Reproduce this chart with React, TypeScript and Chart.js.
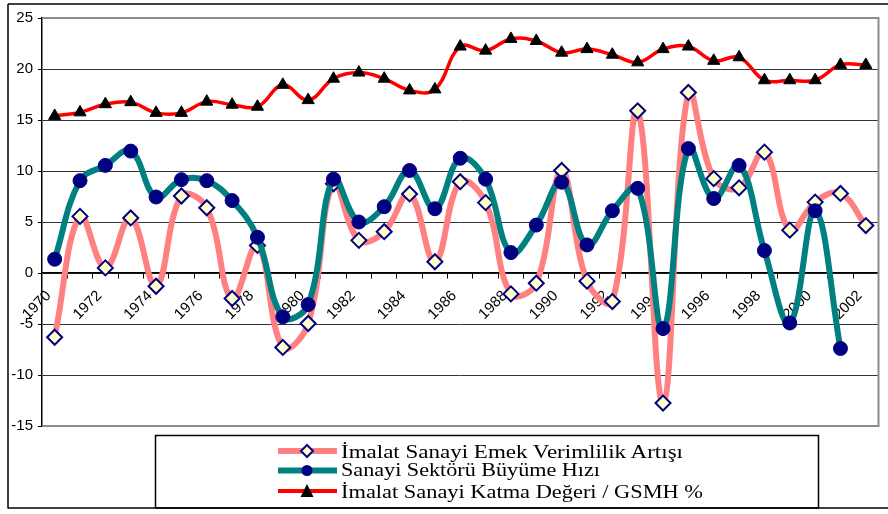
import React, { useEffect, useRef } from 'react';
import { Chart, registerables } from 'chart.js';

Chart.register(...registerables);

const years = [
  '1970', '1971', '1972', '1973', '1974', '1975', '1976', '1977', '1978', '1979',
  '1980', '1981', '1982', '1983', '1984', '1985', '1986', '1987', '1988', '1989',
  '1990', '1991', '1992', '1993', '1994', '1995', '1996', '1997', '1998', '1999',
  '2000', '2001', '2002',
];

const emekVerimlilikArtisi = [
  -6.3, 5.55, 0.5, 5.4, -1.3, 7.55, 6.4, -2.5, 2.7, -7.3,
  -4.95, 8.75, 3.2, 4.05, 7.75, 1.1, 8.95, 6.9, -2.05, -1.0,
  10.05, -0.8, -2.8, 15.9, -12.75, 17.7, 9.25, 8.35, 11.85, 4.2,
  6.95, 7.8, 4.65,
];

const sektorBuyumeHizi = [
  1.35, 9.05, 10.55, 11.95, 7.45, 9.15, 9.05, 7.1, 3.5, -4.3,
  -3.1, 9.2, 5.0, 6.5, 10.05, 6.3, 11.25, 9.2, 2.0, 4.7,
  8.9, 2.75, 6.1, 8.3, -5.45, 12.2, 7.3, 10.55, 2.2, -4.9,
  6.1, -7.4, null,
];

const katmaDegeriGsmh = [
  15.4, 15.75, 16.55, 16.75, 15.7, 15.7, 16.8, 16.5, 16.3, 18.45,
  16.95, 19.05, 19.65, 19.05, 17.9, 18.0, 22.2, 21.8, 22.95, 22.75,
  21.6, 21.95, 21.4, 20.65, 21.95, 22.2, 20.8, 21.15, 18.9, 18.9,
  18.9, 20.4, 20.4,
];

const seriesNames = [
  'İmalat Sanayi Emek Verimlilik Artışı',
  'Sanayi Sektörü Büyüme Hızı',
  'İmalat Sanayi Katma Değeri / GSMH %',
];

const yMin = -15;
const yMax = 25;
const yStep = 5;

const plotFrame = {
  id: 'plotFrame',
  beforeDatasetsDraw(chart: any) {
    const { ctx, chartArea: a } = chart;
    ctx.save();
    ctx.strokeStyle = '#8c8c8c';
    ctx.lineWidth = 2;
    ctx.beginPath();
    ctx.moveTo(a.left + 1, a.top);
    ctx.lineTo(a.right, a.top);
    ctx.lineTo(a.right, a.bottom);
    ctx.lineTo(a.left + 1, a.bottom);
    ctx.stroke();
    ctx.restore();
  },
};

export default function App() {
  const canvasRef = useRef<HTMLCanvasElement>(null);

  useEffect(() => {
    const canvas = canvasRef.current;
    if (!canvas) return;
    const chart = new Chart(canvas, {
      type: 'line',
      data: {
        labels: years,
        datasets: [
          {
            label: seriesNames[2],
            data: katmaDegeriGsmh,
            borderColor: '#FF0000',
            borderWidth: 3.5,
            tension: 0.4,
            pointStyle: 'triangle',
            pointRadius: 7,
            pointBackgroundColor: '#000000',
            pointBorderColor: '#000000',
            pointBorderWidth: 1,
          },
          {
            label: seriesNames[1],
            data: sektorBuyumeHizi,
            borderColor: '#008080',
            borderWidth: 6,
            tension: 0.4,
            pointStyle: 'circle',
            pointRadius: 7,
            pointBackgroundColor: '#000080',
            pointBorderColor: '#000080',
            pointBorderWidth: 1,
          },
          {
            label: seriesNames[0],
            data: emekVerimlilikArtisi,
            borderColor: '#FF8080',
            borderWidth: 6,
            tension: 0.4,
            pointStyle: 'rectRot',
            pointRadius: 7.5,
            pointBackgroundColor: '#FFFFCC',
            pointBorderColor: '#000080',
            pointBorderWidth: 2,
          },
        ],
      },
      options: {
        responsive: false,
        animation: false,
        devicePixelRatio: 1,
        layout: { padding: { left: 0, top: 18, right: 9, bottom: 88 } },
        plugins: {
          legend: { display: false },
          tooltip: { enabled: false },
        },
        scales: {
          x: {
            type: 'category',
            position: { y: 0 } as any,
            offset: true,
            grid: {
              offset: true,
              drawOnChartArea: false,
              drawTicks: true,
              tickLength: 5,
              color: '#000000',
              lineWidth: 1,
            },
            border: { display: true, color: '#000000', width: 1.5 },
            ticks: {
              autoSkip: false,
              maxRotation: 45,
              minRotation: 45,
              padding: 9,
              labelOffset: -6,
              color: '#000000',
              font: { family: "'Liberation Sans', Arial, sans-serif", size: 15 },
              callback: (_v: any, i: number) => (i % 2 === 0 ? years[i] : ''),
            },
            afterFit: (s: any) => {
              s.height = 0;
            },
          },
          y: {
            min: yMin,
            max: yMax,
            ticks: {
              stepSize: yStep,
              padding: 5,
              color: '#000000',
              font: { family: "'Liberation Sans', Arial, sans-serif", size: 15 },
            },
            grid: {
              color: (c: any) =>
                c.tick && (c.tick.value === yMax || c.tick.value === yMin) ? 'rgba(0,0,0,0)' : '#333333',
              tickColor: '#000000',
              tickLength: 4,
              lineWidth: 1,
            },
            border: { display: true, color: '#000000', width: 1.5 },
            afterFit: (s: any) => {
              s.width = 42;
            },
          },
        },
      },
      plugins: [plotFrame],
    });
    return () => chart.destroy();
  }, []);

  const rowY = [451, 470.5, 491];
  const textY = [457.5, 475.5, 498];
  const textLen = [342, 259, 362];

  return (
    <div style={{ position: 'fixed', left: 0, top: 0, width: 888, height: 514, background: '#ffffff' }}>
      <canvas
        ref={canvasRef}
        width={888}
        height={514}
        style={{ position: 'absolute', left: 0, top: 0, width: 888, height: 514 }}
      />
      <svg
        width={888}
        height={514}
        style={{ position: 'absolute', left: 0, top: 0, pointerEvents: 'none' }}
      >
        <line x1={8} y1={4} x2={888} y2={4} stroke="#000" strokeWidth={1.5} />
        <line x1={8} y1={4} x2={8} y2={508.5} stroke="#000" strokeWidth={1.5} />
        <line x1={8} y1={508} x2={888} y2={508} stroke="#000" strokeWidth={1.5} />
        <rect x={155.5} y={435.5} width={663} height={72.5} fill="none" stroke="#000" strokeWidth={1.5} />

        <line x1={278} y1={rowY[0]} x2={337} y2={rowY[0]} stroke="#FF8080" strokeWidth={6} />
        <polygon
          points={`307,${rowY[0] - 6} 313,${rowY[0]} 307,${rowY[0] + 6} 301,${rowY[0]}`}
          fill="#FFFFCC"
          stroke="#000080"
          strokeWidth={2}
        />
        <line x1={278} y1={rowY[1]} x2={337} y2={rowY[1]} stroke="#008080" strokeWidth={6} />
        <circle cx={307} cy={rowY[1]} r={5.5} fill="#000080" />
        <line x1={278} y1={rowY[2]} x2={337} y2={rowY[2]} stroke="#FF0000" strokeWidth={4} />
        <polygon
          points={`307,${rowY[2] - 7} 313.5,${rowY[2] + 6} 300.5,${rowY[2] + 6}`}
          fill="#000"
        />

        {seriesNames.map((name, i) => (
          <text
            key={name}
            x={341}
            y={textY[i]}
            fontFamily="'Liberation Serif', 'Times New Roman', serif"
            fontSize={18}
            fill="#000"
            textLength={textLen[i]}
            lengthAdjust="spacingAndGlyphs"
          >
            {name}
          </text>
        ))}
      </svg>
    </div>
  );
}
